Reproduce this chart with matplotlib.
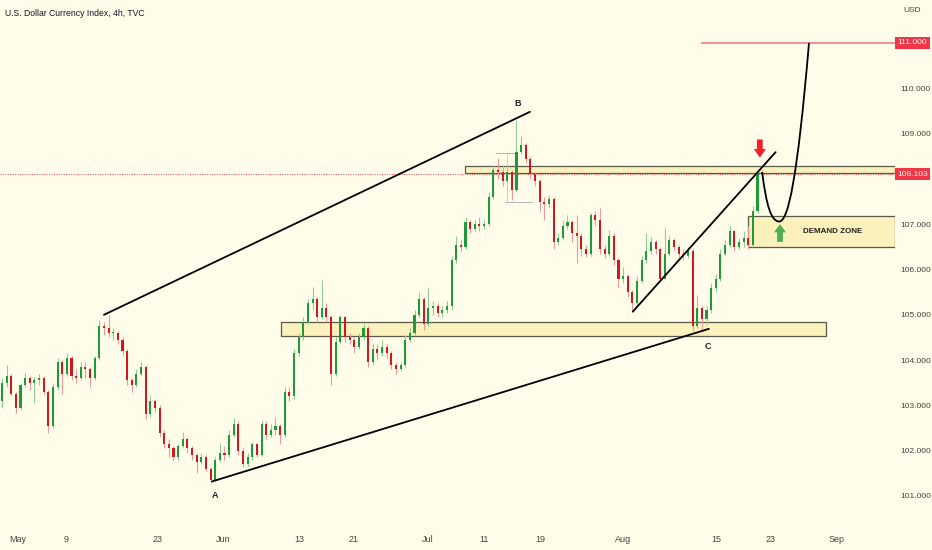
import numpy as np
import matplotlib.pyplot as plt
import matplotlib.transforms as mtransforms
from matplotlib.path import Path
from matplotlib.patches import PathPatch, FancyArrow, Rectangle

plt.rcParams['font.family'] = ['Liberation Sans', 'DejaVu Sans']

# 12h candles, DXY May-Aug 2022
first_open = 103.10
closes = [
    103.50, 103.65, 103.25, 102.95, 103.45, 103.60, 103.50, 103.55, 103.60, 103.30,
    102.55, 103.40, 103.95, 103.70, 104.05, 103.65, 103.60, 103.85, 103.80, 103.60,
    104.05, 104.75, 104.70, 104.60, 104.60, 104.45, 104.20, 103.55, 103.45, 103.70,
    103.85, 102.80, 103.10, 102.95, 102.40, 102.15, 102.05, 101.85, 102.10, 102.25,
    102.05, 101.90, 101.75, 101.85, 101.60, 101.35, 101.80, 101.95, 101.90, 102.35,
    102.60, 102.00, 101.70, 101.85, 102.15, 101.90, 102.60, 102.35, 102.45, 102.55,
    102.35, 103.30, 103.20, 104.15, 104.50, 104.85, 105.25, 105.35, 104.95, 105.15,
    104.95, 103.70, 104.40, 104.95, 104.50, 104.45, 104.30, 104.50, 104.70, 103.95,
    104.25, 104.15, 104.30, 104.15, 103.90, 103.80, 103.90, 104.45, 104.60, 105.00,
    105.35, 104.80, 105.15, 105.20, 105.05, 105.10, 105.20, 106.20, 106.55, 106.50,
    107.05, 106.90, 107.00, 106.95, 107.00, 107.60, 108.20, 108.15, 107.95, 108.15,
    107.75, 108.60, 108.75, 108.45, 108.10, 107.95, 107.50, 107.45, 107.55, 106.60,
    106.70, 106.95, 107.05, 106.80, 106.75, 106.45, 106.35, 107.20, 107.10, 106.45,
    106.35, 106.75, 106.20, 105.80, 105.85, 105.50, 105.25, 105.75, 106.20, 106.40,
    106.60, 106.45, 105.80, 106.35, 106.65, 106.50, 106.35, 106.30, 106.40, 104.75,
    105.15, 104.90, 105.10, 105.60, 105.80, 106.35, 106.55, 106.85, 106.50, 106.60,
    106.70, 106.55, 107.30, 108.15, 108.103]
highs = [
    103.60, 103.90, 103.70, 103.30, 103.50, 103.74, 103.65, 103.62, 103.70, 103.65,
    103.35, 103.50, 104.05, 104.00, 104.16, 104.10, 103.80, 103.95, 103.95, 103.85,
    104.10, 104.88, 104.85, 105.00, 104.70, 104.65, 104.50, 104.25, 103.60, 103.80,
    103.95, 103.90, 103.23, 103.15, 103.00, 102.45, 102.25, 102.10, 102.15, 102.41,
    102.30, 102.10, 101.95, 101.95, 101.90, 101.65, 101.85, 102.17, 102.10, 102.45,
    102.72, 102.65, 102.05, 101.95, 102.20, 102.18, 102.68, 102.65, 102.60, 102.75,
    102.60, 103.40, 103.40, 104.25, 104.60, 104.95, 105.35, 105.61, 105.40, 105.77,
    105.25, 105.00, 104.50, 105.00, 104.98, 104.60, 104.50, 104.60, 104.82, 104.75,
    104.35, 104.35, 104.45, 104.35, 104.20, 103.95, 103.95, 104.55, 104.70, 105.10,
    105.50, 105.40, 105.60, 105.30, 105.25, 105.20, 105.30, 106.30, 106.75, 106.65,
    107.15, 107.10, 107.10, 107.15, 107.10, 107.70, 108.30, 108.46, 108.30, 108.25,
    108.20, 109.30, 108.95, 108.80, 108.50, 108.15, 108.00, 107.60, 107.65, 107.60,
    106.80, 107.10, 107.20, 107.10, 107.20, 106.80, 106.55, 107.25, 107.30, 107.35,
    106.55, 106.87, 106.80, 106.25, 106.05, 105.90, 105.55, 105.85, 106.30, 106.80,
    106.72, 106.65, 106.50, 106.92, 106.75, 106.70, 106.55, 106.45, 106.50, 106.45,
    105.44, 105.20, 105.20, 105.70, 105.90, 106.45, 106.65, 106.95, 106.88, 106.70,
    106.85, 106.95, 107.40, 108.22, 108.20]
lows = [
    102.95, 103.40, 103.20, 102.83, 102.90, 103.40, 103.35, 103.05, 103.45, 103.25,
    102.40, 102.50, 103.35, 103.25, 103.65, 103.55, 103.50, 103.55, 103.60, 103.41,
    103.55, 104.00, 104.55, 104.50, 104.45, 104.35, 104.10, 103.45, 103.30, 103.40,
    103.65, 102.70, 102.75, 102.85, 102.30, 102.05, 101.85, 101.78, 101.80, 102.05,
    101.95, 101.80, 101.50, 101.70, 101.55, 101.29, 101.33, 101.75, 101.80, 101.85,
    102.30, 101.90, 101.65, 101.65, 101.80, 101.85, 101.88, 102.25, 102.30, 102.35,
    102.15, 102.30, 103.10, 103.15, 104.10, 104.45, 104.80, 105.10, 104.85, 104.90,
    104.85, 103.45, 103.65, 104.35, 104.40, 104.35, 104.15, 104.25, 104.45, 103.85,
    103.90, 104.00, 104.10, 104.05, 103.80, 103.70, 103.75, 103.85, 104.40, 104.55,
    104.95, 104.67, 104.75, 105.00, 104.95, 104.95, 105.05, 105.10, 106.15, 106.40,
    106.45, 106.80, 106.85, 106.85, 106.90, 106.95, 107.55, 108.00, 107.85, 107.90,
    107.53, 107.70, 108.55, 108.35, 108.00, 107.85, 107.30, 107.10, 107.35, 106.45,
    106.55, 106.65, 106.90, 106.60, 106.14, 106.30, 106.28, 106.30, 106.95, 106.35,
    106.25, 106.30, 106.10, 105.60, 105.70, 105.40, 105.06, 105.20, 105.70, 106.15,
    106.35, 106.35, 105.75, 105.78, 106.30, 106.40, 106.25, 106.20, 106.25, 104.65,
    104.70, 104.62, 104.80, 105.05, 105.50, 105.75, 106.30, 106.50, 106.40, 106.45,
    106.50, 106.45, 106.50, 107.25, 108.00]

tick_pos = [3.45, 13.81, 33.66, 47.68, 64.08, 75.94, 91.85, 104.06, 116.07,
            133.98, 154.05, 165.91, 180.15]
tick_lab = ['May', '9', '23', 'Jun', '13', '21', 'Jul', '11', '19',
            'Aug', '15', '23', 'Sep']
price_ticks = [101, 102, 103, 104, 105, 106, 107, 109, 110]
target = 111.0

# drawings on the chart (candle index, price)
upper_line = [(22.0, 105.0), (113.9, 109.48)]
lower_line = [(45.3, 101.32), (152.5, 104.69)]
wedge_line = [(136.1, 105.07), (166.9, 108.59)]
top_zone = (99.9, 108.14, 108.29)
mid_zone = (60.2, 177.7, 104.54, 104.85)
demand_zone = (161.0, 106.50, 107.19)
points = [('B', 111.3, 109.66), ('A', 45.9, 101.02), ('C', 152.3, 104.30)]

bg = '#fffde9'
up_c, dn_c = '#1e9a3a', '#cf1820'
up_w, dn_w = '#8ccf99', '#ec9a9e'

fig = plt.figure(figsize=(9.32, 5.5), dpi=100, facecolor=bg)
ax = fig.add_axes([0, 28 / 550, 895 / 932, 522 / 550])
ax.set_facecolor(bg)
ax.set_xlim(-0.43, 192.66)
ax.set_ylim(100.426, 111.949)

c = np.array(closes)
o = np.concatenate([[first_open], c[:-1]])
h = np.array(highs)
l = np.array(lows)
x = np.arange(len(c))
up = c >= o

ax.vlines(x[up], l[up], h[up], color=up_w, lw=0.8, zorder=2)
ax.vlines(x[~up], l[~up], h[~up], color=dn_w, lw=0.8, zorder=2)
body = np.maximum(np.abs(c - o), 0.012)
ax.bar(x[up], body[up], bottom=o[up], width=0.45, color=up_c, lw=0, zorder=3)
ax.bar(x[~up], body[~up], bottom=c[~up], width=0.45, color=dn_c, lw=0, zorder=3)

xr = ax.get_xlim()[1]
# zones
ax.add_patch(Rectangle((top_zone[0], top_zone[1]), xr - top_zone[0], top_zone[2] - top_zone[1],
                       fc='#fbf1bd', ec='#5a5a4a', lw=0.9, zorder=1))
ax.add_patch(Rectangle((mid_zone[0], mid_zone[2]), mid_zone[1] - mid_zone[0], mid_zone[3] - mid_zone[2],
                       fc='#fbf1bd', ec='#5a5a4a', lw=0.9, zorder=1))
ax.add_patch(Rectangle((demand_zone[0], demand_zone[1]), xr - demand_zone[0], demand_zone[2] - demand_zone[1],
                       fc='#fbf1bd', ec='#5a5a4a', lw=0.9, zorder=1))
ax.text(179.1, 106.84, 'DEMAND ZONE', fontsize=5.8, fontweight='bold', color='#222222',
        ha='center', va='center', zorder=6)

# last price dotted line
ax.axhline(c[-1], color='#e8454f', lw=0.7, ls=(0, (1, 1.5)), zorder=1)

# target line
ax.plot([151.0, xr], [target, target], color='#f4868c', lw=1.3, zorder=4)

# trend lines
for seg in (upper_line, lower_line, wedge_line):
    ax.plot([seg[0][0], seg[1][0]], [seg[0][1], seg[1][1]], color='black', lw=1.3,
            solid_capstyle='round', zorder=5)

# faint measuring box near B
ax.plot([106.6, 111.0], [108.58, 108.58], color='#b5b5b5', lw=0.7, zorder=1)
ax.plot([109.0, 109.0], [108.58, 107.50], color='#c5c5c5', lw=0.6, zorder=1)
ax.plot([108.5, 114.3], [107.50, 107.50], color='#b5b5b5', lw=0.7, zorder=1)

# projected path
verts = [(164.0, 108.15), (164.9, 107.42), (165.9, 107.06), (167.7, 107.06),
         (169.6, 107.06), (171.6, 107.98), (174.1, 111.0)]
codes = [Path.MOVETO] + [Path.CURVE4] * 6
ax.add_patch(PathPatch(Path(verts, codes), fc='none', ec='black', lw=1.3, zorder=5))

# arrows
ax.add_patch(FancyArrow(163.5, 108.87, 0, -0.40, width=1.25, head_width=2.6,
                        head_length=0.19, length_includes_head=True,
                        fc='#f2202c', ec='none', zorder=6))
ax.add_patch(FancyArrow(167.85, 106.61, 0, 0.39, width=1.25, head_width=2.6,
                        head_length=0.18, length_includes_head=True,
                        fc='#4caf50', ec='none', zorder=6))

for name, px, py in points:
    ax.text(px, py, name, fontsize=6.5, fontweight='bold', color='#222222',
            ha='center', va='center', zorder=6)

for s in ax.spines.values():
    s.set_visible(False)
ax.set_xticks(tick_pos)
ax.set_xticklabels(tick_lab)
ax.yaxis.tick_right()
ax.set_yticks(price_ticks)
ax.set_yticklabels(['%.3f' % p for p in price_ticks])
ax.tick_params(axis='x', length=0, pad=9, labelsize=6.5, labelcolor='#444444')
ax.tick_params(axis='y', length=0, pad=4, labelsize=6, labelcolor='#444444')

trans = mtransforms.blended_transform_factory(ax.transAxes, ax.transData)
for val in (target, c[-1]):
    ax.text(1.0195, val, '%.3f' % val, transform=trans, fontsize=6, color='white',
            ha='center', va='center', clip_on=False, zorder=10,
            bbox=dict(boxstyle='square,pad=0.3', fc='#f23645', ec='none'))

fig.text(903 / 932, 1 - 10 / 550, 'USD', fontsize=6, color='#444444', va='center')
fig.text(5 / 932, 1 - 13 / 550, 'U.S. Dollar Currency Index, 4h, TVC', fontsize=6.2,
         color='#131722', va='center')

fig.savefig('out.png', dpi=100, facecolor=bg)
